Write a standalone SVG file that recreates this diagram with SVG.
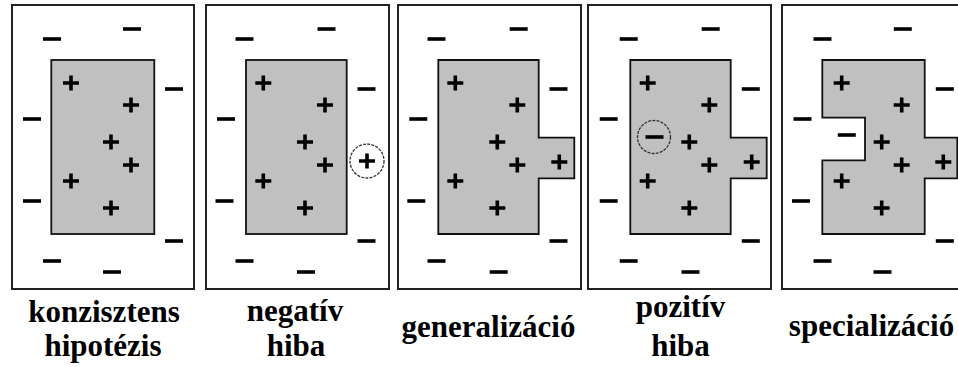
<svg xmlns="http://www.w3.org/2000/svg" xmlns:xlink="http://www.w3.org/1999/xlink" width="958" height="367" viewBox="0 0 958 367">
  <style>
    .frame { fill: #fff; stroke: #222; stroke-width: 2; }
    .region { fill: #c0c0c0; stroke: #111; stroke-width: 1.8; }
    .ring { fill: none; stroke: #333; stroke-width: 1.3; stroke-dasharray: 3 1.2; }
    .label { font-family: "Liberation Serif", "Times New Roman", serif; font-weight: bold; font-size: 31px; fill: #000; text-anchor: middle; }
  </style>
  <defs>
    <path id="plus" d="M-8,0H8M0,-7.5V7.5" stroke="#000" stroke-width="3.6" fill="none"/>
    <path id="minus" d="M-9,0H9" stroke="#000" stroke-width="3.6" fill="none"/>
  </defs>
  <rect width="958" height="367" fill="#fff"/>

  <!-- consistent hypothesis -->
  <g id="panel-konzisztens">
    <rect class="frame" x="12" y="5" width="182" height="284"/>
    <rect class="region" x="51.3" y="60" width="103" height="174"/>
    <use xlink:href="#minus" x="52" y="39"/>
    <use xlink:href="#minus" x="132" y="29"/>
    <use xlink:href="#minus" x="174" y="89"/>
    <use xlink:href="#minus" x="32" y="119"/>
    <use xlink:href="#minus" x="32" y="201"/>
    <use xlink:href="#minus" x="174" y="241"/>
    <use xlink:href="#minus" x="52" y="261"/>
    <use xlink:href="#minus" x="112" y="272"/>
    <use xlink:href="#plus" x="71" y="83"/>
    <use xlink:href="#plus" x="131" y="105"/>
    <use xlink:href="#plus" x="111" y="142"/>
    <use xlink:href="#plus" x="131" y="165"/>
    <use xlink:href="#plus" x="71" y="181"/>
    <use xlink:href="#plus" x="111" y="208"/>
    <text class="label" x="104" y="322">konzisztens</text>
    <text class="label" x="103" y="356">hipotézis</text>
  </g>

  <!-- false negative -->
  <g id="panel-negativ">
    <rect class="frame" x="206" y="5" width="183" height="284"/>
    <rect class="region" x="246" y="60" width="100.7" height="174"/>
    <use xlink:href="#minus" x="244.5" y="39"/>
    <use xlink:href="#minus" x="326.5" y="29"/>
    <use xlink:href="#minus" x="366.5" y="89"/>
    <use xlink:href="#minus" x="226" y="119"/>
    <use xlink:href="#minus" x="224.5" y="201"/>
    <use xlink:href="#minus" x="366.5" y="241"/>
    <use xlink:href="#minus" x="244.5" y="261"/>
    <use xlink:href="#minus" x="306" y="272"/>
    <use xlink:href="#plus" x="263.3" y="83"/>
    <use xlink:href="#plus" x="325" y="105"/>
    <use xlink:href="#plus" x="305" y="142"/>
    <use xlink:href="#plus" x="325" y="165"/>
    <use xlink:href="#plus" x="263.3" y="181"/>
    <use xlink:href="#plus" x="305" y="208"/>
    <circle class="ring" cx="367" cy="161" r="17"/>
    <use xlink:href="#plus" x="367" y="161"/>
    <text class="label" x="295" y="321">negatív</text>
    <text class="label" x="296" y="356">hiba</text>
  </g>

  <!-- generalisation -->
  <g id="panel-generalizacio">
    <rect class="frame" x="398" y="5" width="183" height="284"/>
    <polygon class="region" points="438.3,60 538.7,60 538.7,137.7 574.3,137.7 574.3,178.3 538.7,178.3 538.7,234 438.3,234"/>
    <use xlink:href="#minus" x="436.5" y="39"/>
    <use xlink:href="#minus" x="518.7" y="29"/>
    <use xlink:href="#minus" x="558.5" y="89"/>
    <use xlink:href="#minus" x="418.3" y="119"/>
    <use xlink:href="#minus" x="416.3" y="201"/>
    <use xlink:href="#minus" x="558.5" y="241"/>
    <use xlink:href="#minus" x="436.5" y="261"/>
    <use xlink:href="#minus" x="498.7" y="272"/>
    <use xlink:href="#plus" x="455.3" y="83"/>
    <use xlink:href="#plus" x="517.3" y="105"/>
    <use xlink:href="#plus" x="497.3" y="142"/>
    <use xlink:href="#plus" x="517.3" y="165"/>
    <use xlink:href="#plus" x="455.3" y="181"/>
    <use xlink:href="#plus" x="497.3" y="208"/>
    <use xlink:href="#plus" x="559.3" y="162"/>
    <text class="label" x="488.5" y="337">generalizáció</text>
  </g>

  <!-- false positive -->
  <g id="panel-pozitiv">
    <rect class="frame" x="588" y="5" width="183" height="284"/>
    <polygon class="region" points="630.3,60 730.7,60 730.7,137.7 766.7,137.7 766.7,178.3 730.7,178.3 730.7,234 630.3,234"/>
    <use xlink:href="#minus" x="628.7" y="39"/>
    <use xlink:href="#minus" x="710.7" y="29"/>
    <use xlink:href="#minus" x="750.8" y="89"/>
    <use xlink:href="#minus" x="608.7" y="119"/>
    <use xlink:href="#minus" x="608.7" y="201"/>
    <use xlink:href="#minus" x="750.8" y="241"/>
    <use xlink:href="#minus" x="628.7" y="261"/>
    <use xlink:href="#minus" x="690.5" y="272"/>
    <use xlink:href="#plus" x="647.7" y="83"/>
    <use xlink:href="#plus" x="709.3" y="105"/>
    <use xlink:href="#plus" x="689.3" y="142"/>
    <use xlink:href="#plus" x="709.3" y="165"/>
    <use xlink:href="#plus" x="647.7" y="181"/>
    <use xlink:href="#plus" x="689.3" y="208"/>
    <use xlink:href="#plus" x="751.7" y="162"/>
    <circle class="ring" cx="654" cy="137" r="16.5"/>
    <use xlink:href="#minus" x="654.5" y="137"/>
    <text class="label" x="680.5" y="317">pozitív</text>
    <text class="label" x="680.5" y="356">hiba</text>
  </g>

  <!-- specialisation -->
  <g id="panel-specializacio">
    <rect class="frame" x="782" y="5" width="183" height="284"/>
    <polygon class="region" points="822.3,60 924.7,60 924.7,137.7 957.3,137.7 957.3,178.3 924.7,178.3 924.7,234 822.3,234 822.3,160.3 865,160.3 865,117.7 822.3,117.7"/>
    <use xlink:href="#minus" x="822.5" y="39"/>
    <use xlink:href="#minus" x="902.8" y="29"/>
    <use xlink:href="#minus" x="944.8" y="89"/>
    <use xlink:href="#minus" x="802.5" y="119"/>
    <use xlink:href="#minus" x="801" y="201"/>
    <use xlink:href="#minus" x="944.8" y="241"/>
    <use xlink:href="#minus" x="822.5" y="261"/>
    <use xlink:href="#minus" x="882.5" y="272"/>
    <use xlink:href="#minus" x="846.8" y="135"/>
    <use xlink:href="#plus" x="841.7" y="83"/>
    <use xlink:href="#plus" x="901.7" y="105"/>
    <use xlink:href="#plus" x="881.7" y="142"/>
    <use xlink:href="#plus" x="901.7" y="165"/>
    <use xlink:href="#plus" x="841.7" y="181"/>
    <use xlink:href="#plus" x="881.7" y="208"/>
    <use xlink:href="#plus" x="943.3" y="162"/>
    <text class="label" x="871.5" y="336">specializáció</text>
  </g>
</svg>
